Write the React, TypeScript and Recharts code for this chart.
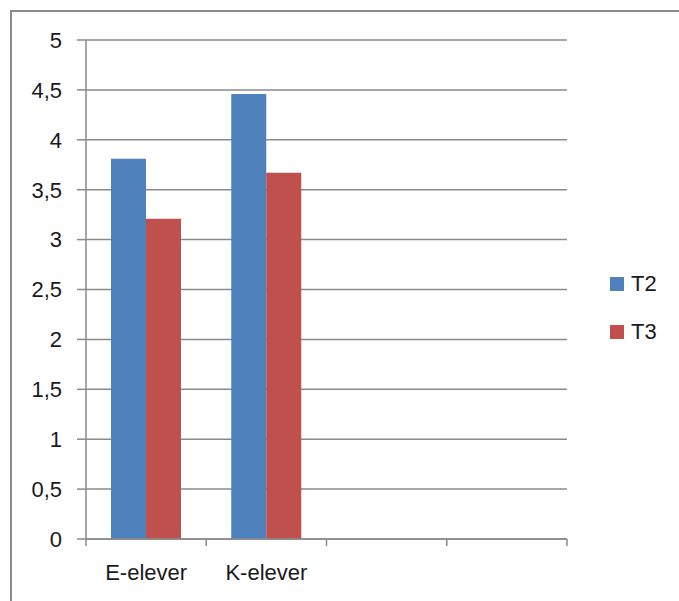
import React from "react";
import { BarChart, Bar, XAxis, YAxis, CartesianGrid, Legend } from "recharts";

const categories = ["E-elever", "K-elever", "", ""];
const t2Values = [3.81, 4.46, null, null];
const t3Values = [3.21, 3.67, null, null];
const yTicks = [0, 0.5, 1, 1.5, 2, 2.5, 3, 3.5, 4, 4.5, 5];
const seriesNames = ["T2", "T3"];
const seriesColors = ["#4F81BD", "#C0504D"];

const data = categories.map((name, i) => ({
  name,
  T2: t2Values[i],
  T3: t3Values[i],
}));

const W = 679;
const H = 601;
const MARGIN = { top: 40, right: 112, bottom: 22, left: 10 };
const Y_AXIS_W = 76;
const PLOT_W = W - MARGIN.left - MARGIN.right - Y_AXIS_W;
const BAND = PLOT_W / categories.length;
const AXIS_COLOR = "#8a8a8a";
const FONT = "'Liberation Sans', Arial, sans-serif";
const TEXT_COLOR = "#1a1a1a";

const CategoryTick = (props: any) => {
  const { x, y, payload, index } = props;
  const left = x - BAND / 2;
  const right = x + BAND / 2;
  const top = y - 10;
  return (
    <g>
      <line x1={left} y1={top} x2={left} y2={top + 7} stroke={AXIS_COLOR} strokeWidth={1.5} />
      {index === categories.length - 1 && (
        <line x1={right} y1={top} x2={right} y2={top + 7} stroke={AXIS_COLOR} strokeWidth={1.5} />
      )}
      <text
        x={x}
        y={y + 31}
        textAnchor="middle"
        fontFamily={FONT}
        fontSize={22}
        fill={TEXT_COLOR}
      >
        {payload.value}
      </text>
    </g>
  );
};

const LegendContent = () => (
  <div style={{ fontFamily: FONT, fontSize: 22, color: TEXT_COLOR }}>
    {seriesNames.map((n, i) => (
      <div
        key={n}
        style={{ display: "flex", alignItems: "center", height: 48 }}
      >
        <span
          style={{
            display: "inline-block",
            width: 14,
            height: 14,
            background: seriesColors[i],
            marginRight: 7,
          }}
        />
        <span>{n}</span>
      </div>
    ))}
  </div>
);

export default function App() {
  return (
    <div
      style={{
        position: "absolute",
        left: 0,
        top: 0,
        width: W,
        height: H,
        overflow: "hidden",
        background: "#fff",
      }}
    >
      <div
        style={{
          position: "absolute",
          left: 10,
          top: 10,
          width: 760,
          height: 700,
          border: "2px solid #8c8c8c",
        }}
      />
      <BarChart
        width={W}
        height={H}
        data={data}
        margin={MARGIN}
        barGap={0}
        barCategoryGap={25}
      >
        <CartesianGrid vertical={false} stroke={AXIS_COLOR} strokeWidth={1.5} />
        <XAxis
          dataKey="name"
          axisLine={{ stroke: AXIS_COLOR, strokeWidth: 1.5 }}
          tickLine={false}
          tick={<CategoryTick />}
          interval={0}
          height={40}
          tickSize={8}
        />
        <YAxis
          domain={[0, 5]}
          ticks={yTicks}
          width={Y_AXIS_W}
          interval={0}
          axisLine={{ stroke: AXIS_COLOR, strokeWidth: 1.5 }}
          tickLine={{ stroke: AXIS_COLOR, strokeWidth: 1.5 }}
          tickSize={9}
          tickMargin={15}
          tick={{ fontFamily: FONT, fontSize: 22, fill: TEXT_COLOR }}
          tickFormatter={(v: number) => String(v).replace(".", ",")}
        />
        <Legend
          layout="vertical"
          align="center"
          verticalAlign="middle"
          content={<LegendContent />}
          wrapperStyle={{ position: "absolute", left: 610, top: 260, width: 70 }}
        />
        <Bar dataKey="T2" fill={seriesColors[0]} isAnimationActive={false} />
        <Bar dataKey="T3" fill={seriesColors[1]} isAnimationActive={false} />
      </BarChart>
    </div>
  );
}
